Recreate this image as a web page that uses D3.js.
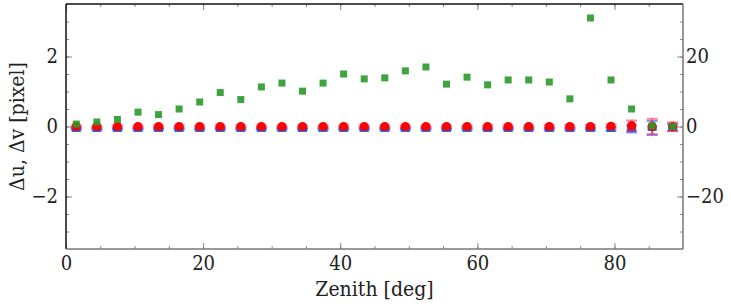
<!DOCTYPE html>
<html lang="en">
<head>
<meta charset="UTF-8">
<title>Zenith offsets</title>
<script src="https://d3js.org/d3.v7.min.js"></script>
<style>
  body { margin: 0; background: white; }
</style>
</head>
<body>
<svg id="chart" width="731" height="307"></svg>
<script>
// zenith angle of each bin (deg)
var zenith = [1.5, 4.5, 7.5, 10.5, 13.5, 16.5, 19.5, 22.5, 25.5, 28.5,
              31.5, 34.5, 37.5, 40.5, 43.5, 46.5, 49.5, 52.5, 55.5, 58.5,
              61.5, 64.5, 67.5, 70.5, 73.5, 76.5, 79.5, 82.5, 85.5, 88.5];
// mean offsets, left axis [pixel]
var du = [0, 0, 0, 0, 0, 0, 0, 0, 0, 0, 0, 0, 0, 0, 0,
          0, 0, 0, 0, 0, 0, 0, 0, 0, 0, 0, 0.01, 0.03, 0.0, 0.0];
var duErr = [0.03, 0.03, 0.03, 0.03, 0.03, 0.03, 0.03, 0.03, 0.03, 0.03,
             0.03, 0.03, 0.03, 0.03, 0.03, 0.03, 0.03, 0.03, 0.03, 0.03,
             0.03, 0.03, 0.03, 0.04, 0.04, 0.04, 0.05, 0.14, 0.22, 0.12];
var dv = [-0.07, -0.07, -0.07, -0.07, -0.07, -0.07, -0.07, -0.07, -0.07, -0.07,
          -0.07, -0.07, -0.07, -0.07, -0.07, -0.07, -0.07, -0.07, -0.07, -0.07,
          -0.07, -0.07, -0.07, -0.07, -0.07, -0.07, -0.07, -0.07, -0.04, -0.03];
var dvErr = [0.02, 0.02, 0.02, 0.02, 0.02, 0.02, 0.02, 0.02, 0.02, 0.02,
             0.02, 0.02, 0.02, 0.02, 0.02, 0.02, 0.02, 0.02, 0.02, 0.02,
             0.02, 0.02, 0.02, 0.03, 0.03, 0.03, 0.05, 0.1, 0.2, 0.1];
// right axis quantity
var spread = [0.7, 1.3, 2.0, 4.1, 3.4, 5.0, 7.0, 9.7, 7.7, 11.3,
              12.4, 10.1, 12.4, 15.0, 13.6, 13.9, 15.9, 17.0, 12.1, 14.1,
              11.9, 13.3, 13.3, 12.7, 7.9, 31.0, 13.3, 5.0, 0.2, 0.0];

var leftTicks = [-2, 0, 2];
var rightTicks = [-20, 0, 20];
var xTicks = [0, 20, 40, 60, 80];

var FONT = "'DejaVu Serif Condensed', 'DejaVu Serif', serif";

var svg = d3.select("#chart").attr("font-family", FONT);
var L = 66, R = 683, T = 4, B = 249;

var x = d3.scaleLinear().domain([0, 90]).range([L, R]);
var y = d3.scaleLinear().domain([-3.5, 3.5]).range([B, T]);
var y2 = d3.scaleLinear().domain([-35, 35]).range([B, T]);

// axes with inward ticks
function fmt(d) { return d < 0 ? "\u2212" + Math.abs(d) : "" + d; }

var gx = svg.append("g").attr("transform", "translate(0," + B + ")")
  .call(d3.axisBottom(x).tickValues(xTicks).tickFormat(fmt).tickSizeInner(-6).tickSizeOuter(0).tickPadding(7));
var gxm = svg.append("g").attr("transform", "translate(0," + B + ")")
  .call(d3.axisBottom(x).tickValues(d3.range(5, 90, 5)).tickFormat("").tickSizeInner(-3).tickSizeOuter(0));
var gt = svg.append("g").attr("transform", "translate(0," + T + ")")
  .call(d3.axisTop(x).tickValues(xTicks).tickFormat("").tickSizeInner(-6).tickSizeOuter(0));
var gtm = svg.append("g").attr("transform", "translate(0," + T + ")")
  .call(d3.axisTop(x).tickValues(d3.range(5, 90, 5)).tickFormat("").tickSizeInner(-3).tickSizeOuter(0));

var gy = svg.append("g").attr("transform", "translate(" + L + ",0)")
  .call(d3.axisLeft(y).tickValues(leftTicks).tickFormat(fmt).tickSizeInner(-6).tickSizeOuter(0).tickPadding(8));
var gym = svg.append("g").attr("transform", "translate(" + L + ",0)")
  .call(d3.axisLeft(y).tickValues(d3.range(-3, 3.5, 0.5)).tickFormat("").tickSizeInner(-3).tickSizeOuter(0));
var gr = svg.append("g").attr("transform", "translate(" + R + ",0)")
  .call(d3.axisRight(y2).tickValues(rightTicks).tickFormat(fmt).tickSizeInner(-6).tickSizeOuter(0).tickPadding(3));
var grm = svg.append("g").attr("transform", "translate(" + R + ",0)")
  .call(d3.axisRight(y2).tickValues(d3.range(-30, 35, 5)).tickFormat("").tickSizeInner(-3).tickSizeOuter(0));

[gx, gxm, gt, gtm, gy, gym, gr, grm].forEach(function(g) {
  g.attr("font-family", FONT).attr("font-size", 20);
  g.select(".domain").remove();
  g.selectAll("line").attr("stroke", "#888").attr("stroke-width", 1);
  g.selectAll("text").attr("fill", "#222");
});

// frame: left/top dark, right/bottom grey
svg.append("line").attr("x1", L).attr("x2", L).attr("y1", T).attr("y2", B).attr("stroke", "#111").attr("stroke-width", 1.5);
svg.append("line").attr("x1", L).attr("x2", R).attr("y1", T).attr("y2", T).attr("stroke", "#111").attr("stroke-width", 1.5);
svg.append("line").attr("x1", R).attr("x2", R).attr("y1", T).attr("y2", B).attr("stroke", "#777").attr("stroke-width", 1.5);
svg.append("line").attr("x1", L).attr("x2", R).attr("y1", B).attr("y2", B).attr("stroke", "#777").attr("stroke-width", 1.5);

// error bars helper
function errbars(vals, errs, color) {
  var g = svg.append("g").attr("stroke", color).attr("stroke-width", 2).attr("stroke-opacity", 0.55);
  zenith.forEach(function(z, i) {
    var cx = x(z), y0 = y(vals[i] - errs[i]), y1 = y(vals[i] + errs[i]);
    g.append("line").attr("x1", cx).attr("x2", cx).attr("y1", y0).attr("y2", y1);
    g.append("line").attr("x1", cx - 5.5).attr("x2", cx + 5.5).attr("y1", y0).attr("y2", y0);
    g.append("line").attr("x1", cx - 5.5).attr("x2", cx + 5.5).attr("y1", y1).attr("y2", y1);
  });
}

// dv: blue squares
errbars(dv, dvErr, "#2233ee");
svg.append("g").selectAll("rect").data(zenith).join("rect")
  .attr("x", function(d) { return x(d) - 4.5; })
  .attr("y", function(d, i) { return y(dv[i]) - 3; })
  .attr("width", 9).attr("height", 6)
  .attr("fill", "#2a5bd7");

// du: red circles
errbars(du, duErr, "#ff2255");
svg.append("g").selectAll("circle").data(zenith).join("circle")
  .attr("cx", function(d) { return x(d); })
  .attr("cy", function(d, i) { return y(du[i]); })
  .attr("r", 4.5)
  .attr("fill", "#ff0000");

// right-axis series: green squares
svg.append("g").selectAll("rect").data(zenith).join("rect")
  .attr("x", function(d) { return x(d) - 3.5; })
  .attr("y", function(d, i) { return y2(spread[i]) - 3.5; })
  .attr("width", 7).attr("height", 7)
  .attr("fill", "#2a9a2a").attr("fill-opacity", 0.9);

// axis titles
svg.append("text").attr("x", (L + R) / 2).attr("y", 296).attr("text-anchor", "middle")
  .attr("font-size", 21).attr("fill", "#222").text("Zenith [deg]");
svg.append("text").attr("transform", "translate(24," + ((T + B) / 2) + ") rotate(-90)")
  .attr("text-anchor", "middle").attr("font-size", 21).attr("fill", "#222").text("\u0394u, \u0394v [pixel]");
</script>
</body>
</html>
